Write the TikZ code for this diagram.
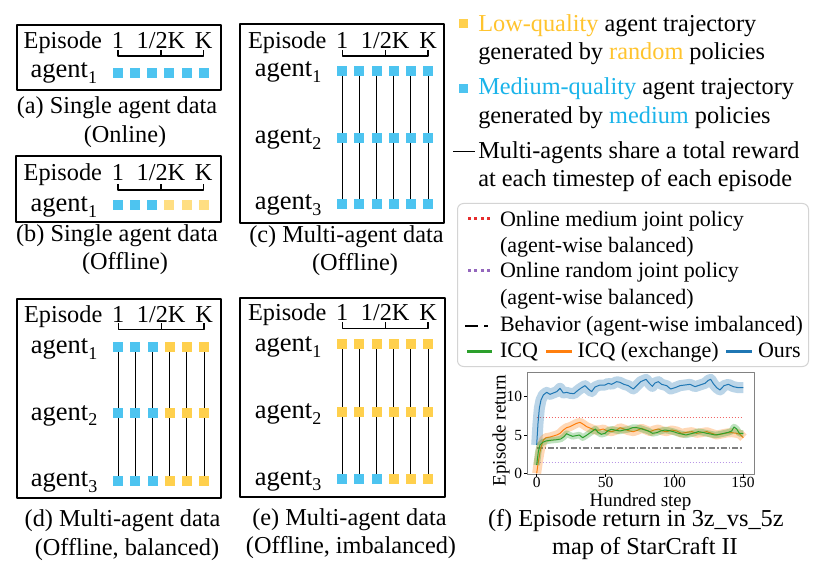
\documentclass[tikz,border=0pt]{standalone}
\usepackage{fontspec}
\setmainfont{Liberation Serif}
\definecolor{mblue}{RGB}{77,196,240}
\definecolor{myel}{RGB}{255,208,77}
\definecolor{myelp}{RGB}{255,222,130}
\definecolor{lowtxt}{RGB}{255,196,46}
\definecolor{medtxt}{RGB}{26,180,234}
\definecolor{cours}{RGB}{31,119,180}
\definecolor{cicq}{RGB}{44,160,44}
\definecolor{cexc}{RGB}{255,127,14}
\definecolor{cred}{RGB}{230,45,45}
\definecolor{cpur}{RGB}{148,103,189}
\definecolor{credl}{RGB}{240,100,100}
\definecolor{cpurl}{RGB}{185,150,230}
\definecolor{framegray}{RGB}{130,130,130}
\definecolor{leggray}{RGB}{212,212,212}
\newcommand{\fBig}{\fontsize{24.3}{29}\selectfont}
\newcommand{\fAgt}{\fontsize{26.5}{30}\selectfont}
\newcommand{\fLeg}{\fontsize{22}{26}\selectfont}
\newcommand{\fTick}{\fontsize{15.5}{17}\selectfont}
\newcommand{\fLab}{\fontsize{19}{22}\selectfont}
\newcommand{\agt}[1]{{\fAgt agent\raisebox{-0.22em}{\fontsize{18}{18}\selectfont #1}}}
\newcommand{\mkhead}[4]{%
  \node[txt, anchor=base east] (#1ep) at ({#2-16},#3) {Episode};
  \node[txt] (#1k1) at (#2,#3) {1};
  \node[txt] (#1kh) at ({#2+42.9},#3) {1/2K};
  \node[txt] (#1kk) at ({#2+85.75},#3) {K};
  \draw[brk] (#2,{#4-6}) -- (#2,#4) -- ({#2+85.75},#4) -- ({#2+85.75},{#4-6});
  \draw[brk] ({#2+42.9},#4) -- ({#2+42.9},{#4-6});
}
\newcommand{\mkrow}[7]{%
  \node[txt, anchor=base east] (#1l#2) at ({#3-21},#5) {\agt{#6}};
  \foreach \c [count=\i from 0] in {#7}
    \node[sq, fill=\c] (#1r#2c\i) at ({#3+17.15*\i},#4) {};
}
\newcommand{\mkconn}[1]{%
  \foreach \i in {0,...,5} {
    \draw[conn] (#1r1c\i) -- (#1r2c\i);
    \draw[conn] (#1r2c\i) -- (#1r3c\i);
  }
}
\begin{document}
\begin{tikzpicture}[x=1pt,y=-1pt,line join=round,
  txt/.style={font=\fBig, inner sep=0pt, outer sep=0pt, anchor=base},
  legt/.style={font=\fLeg, inner sep=0pt, outer sep=0pt, anchor=base west},
  topt/.style={font=\fBig, inner sep=0pt, outer sep=0pt, anchor=base west},
  sq/.style={minimum size=10pt, inner sep=0pt, outer sep=0pt, draw=none},
  pbox/.style={draw=black, line width=1.6pt, inner sep=0pt, anchor=north west},
  brk/.style={line width=1.2pt},
  conn/.style={line width=1pt},
  tickl/.style={font=\fTick, inner sep=0pt, outer sep=0pt},
]
\fill[white] (0,0) rectangle (822,577);
\useasboundingbox (0,0) rectangle (822,577);

% ---------- panel boxes ----------
\node[pbox, minimum width=204pt, minimum height=65pt] (boxa) at (16,24) {};
\node[pbox, minimum width=205pt, minimum height=66pt] (boxb) at (15,155) {};
\node[pbox, minimum width=204pt, minimum height=199pt] (boxc) at (239,23) {};
\node[pbox, minimum width=204pt, minimum height=199pt] (boxd) at (16,298) {};
\node[pbox, minimum width=205pt, minimum height=199pt] (boxe) at (239,297) {};

% ---------- (a) ----------
\mkhead{a}{118}{48.3}{56}
\mkrow{a}{1}{118}{73}{77.5}{1}{mblue,mblue,mblue,mblue,mblue,mblue}
\node[txt] (capa1) at (117,114) {(a) Single agent data};
\node[txt] (capa2) at (125,143) {(Online)};

% ---------- (b) ----------
\mkhead{b}{118}{180.7}{190}
\mkrow{b}{1}{118}{205}{212}{1}{mblue,mblue,mblue,myelp,myelp,myelp}
\node[txt] (capb1) at (117,241.7) {(b) Single agent data};
\node[txt] (capb2) at (125,270) {(Offline)};

% ---------- (c) ----------
\mkhead{c}{342.3}{48.3}{56}
\mkrow{c}{1}{342.3}{71}{76.7}{1}{mblue,mblue,mblue,mblue,mblue,mblue}
\mkrow{c}{2}{342.3}{138}{143.3}{2}{mblue,mblue,mblue,mblue,mblue,mblue}
\mkrow{c}{3}{342.3}{204}{209.3}{3}{mblue,mblue,mblue,mblue,mblue,mblue}
\mkconn{c}
\node[txt] (capc1) at (346.5,242.7) {(c) Multi-agent data};
\node[txt] (capc2) at (355,270.7) {(Offline)};

% ---------- (d) ----------
\mkhead{d}{118.3}{322.7}{329.3}
\mkrow{d}{1}{118.3}{347}{353.3}{1}{mblue,mblue,mblue,myel,myel,myel}
\mkrow{d}{2}{118.3}{413}{420}{2}{mblue,mblue,mblue,myel,myel,myel}
\mkrow{d}{3}{118.3}{481}{486.7}{3}{mblue,mblue,mblue,myel,myel,myel}
\mkconn{d}
\node[txt] (capd1) at (122.5,526.7) {(d) Multi-agent data};
\node[txt] (capd2) at (127,555) {(Offline, balanced)};

% ---------- (e) ----------
\mkhead{e}{342.3}{320.7}{328.3}
\mkrow{e}{1}{342.3}{344}{351.7}{1}{myel,myel,myel,myel,myel,myel}
\mkrow{e}{2}{342.3}{412}{418.3}{2}{myel,myel,myel,myel,myel,myel}
\mkrow{e}{3}{342.3}{479}{485}{3}{mblue,mblue,mblue,myel,myel,myel}
\mkconn{e}
\node[txt] (cape1) at (349.5,525) {(e) Multi-agent data};
\node[txt] (cape2) at (351,553) {(Offline, imbalanced)};

% ---------- top legend ----------
\node[sq, minimum size=9pt, fill=myel] (lm1) at (463,23.3) {};
\node[topt] (lt1) at (478.3,31.7) {\textcolor{lowtxt}{Low-quality} agent trajectory};
\node[topt] (lt2) at (478.3,60) {generated by \textcolor{lowtxt}{random} policies};
\node[sq, minimum size=9pt, fill=mblue] (lm2) at (463,88.3) {};
\node[topt] (lt3) at (478.3,95) {\textcolor{medtxt}{Medium-quality} agent trajectory};
\node[topt] (lt4) at (478.3,123.3) {generated by \textcolor{medtxt}{medium} policies};
\coordinate (ld0) at (453,151.7);
\coordinate (ld1) at (475,151.7);
\draw[line width=1pt] (ld0) -- (ld1);
\node[topt] (lt5) at (478.3,158.3) {Multi-agents share a total reward};
\node[topt] (lt6) at (478.3,186.7) {at each timestep of each episode};

% ---------- plot legend box ----------
\node[draw=leggray, line width=1pt, rounded corners=6pt, anchor=north west,
      minimum width=351pt, minimum height=163pt, fill=white, inner sep=0pt] (legbox) at (457,203) {};
\coordinate (s1a) at (468,218.5); \coordinate (s1b) at (493,218.5);
\draw[cred, line width=2.6pt, dash pattern=on 3pt off 3.4pt] (s1a) -- (s1b);
\node[legt] (le1) at (500,226.7) {Online medium joint policy};
\node[legt] (le2) at (500,252.5) {(agent-wise balanced)};
\coordinate (s2a) at (468,270.7); \coordinate (s2b) at (493,270.7);
\draw[cpur, line width=2.6pt, dash pattern=on 3pt off 3.4pt] (s2a) -- (s2b);
\node[legt] (le3) at (500,278) {Online random joint policy};
\node[legt] (le4) at (500,304.5) {(agent-wise balanced)};
\coordinate (s3a) at (465,326); \coordinate (s3b) at (490,326);
\draw[black, line width=2.7pt, dash pattern=on 12.7pt off 6.6pt on 3.4pt off 10pt] (s3a) -- (s3b);
\node[legt] (le5) at (500,331.7) {Behavior (agent-wise imbalanced)};
\coordinate (s4a) at (467,351.7); \coordinate (s4b) at (492,351.7);
\draw[cicq, line width=2.6pt] (s4a) -- (s4b);
\node[legt] (le6) at (500,357) {ICQ};
\coordinate (s5a) at (546,351.7); \coordinate (s5b) at (572,351.7);
\draw[cexc, line width=2.6pt] (s5a) -- (s5b);
\node[legt] (le7) at (577.5,357) {ICQ (exchange)};
\coordinate (s6a) at (726,351.7); \coordinate (s6b) at (752,351.7);
\draw[cours, line width=2.6pt] (s6a) -- (s6b);
\node[legt] (le8) at (758,357) {Ours};

% ---------- plot ----------
\begin{scope}[shift={(520pt,-365pt)}, x=0.33333pt, y=-0.33333pt]
  % reference levels
  \draw[credl, line width=1pt, dash pattern=on 1.2pt off 1.8pt] (50,158) -- (670,158);
  \draw[cpurl, line width=1pt, dash pattern=on 1.2pt off 1.8pt] (50,292) -- (670,292);
  \draw[gray, line width=1.8pt, dash pattern=on 6pt off 2pt on 1.5pt off 2pt] (50,250) -- (670,250);
  % Ours
  \draw[cours, line width=1pt, preaction={draw, cours, opacity=0.3, line width=11pt}]
    plot coordinates {(50,240) (54,175) (58,130) (63,105) (70,90) (80,82) (90,88) (100,84) (110,80) (120,70) (130,84) (140,82) (150,85) (162,86) (175,75) (185,68) (195,62) (205,72) (215,80) (225,66) (240,60) (255,60) (265,55) (275,58) (290,50) (300,52) (312,58) (325,62) (340,72) (350,62) (362,50) (378,43) (388,55) (397,64) (405,54) (415,50) (425,58) (440,62) (452,72) (465,68) (480,62) (495,60) (510,58) (525,65) (540,60) (555,55) (565,46) (572,43) (580,56) (590,68) (600,75) (612,62) (625,58) (640,65) (655,68) (670,68)};
  % ICQ (exchange)
  \draw[cexc, line width=1pt, preaction={draw, cexc, opacity=0.3, line width=9pt}]
    plot coordinates {(50,325) (55,290) (62,250) (70,225) (78,218) (90,216) (100,213) (110,210) (120,205) (130,195) (140,188) (150,185) (160,180) (170,175) (180,172) (190,178) (200,185) (212,190) (225,195) (238,195) (250,192) (262,198) (275,200) (290,195) (300,188) (312,192) (325,197) (340,200) (352,196) (365,190) (378,195) (390,200) (402,195) (415,192) (428,198) (440,200) (455,195) (470,198) (485,205) (500,202) (515,200) (530,205) (545,203) (560,200) (575,205) (590,210) (605,207) (620,204) (635,203) (650,205) (660,208) (670,218)};
  % ICQ
  \draw[cicq, line width=1pt, preaction={draw, cicq, opacity=0.3, line width=6.5pt}]
    plot coordinates {(50,300) (55,260) (60,240) (68,232) (78,228) (90,226) (100,225) (112,224) (122,222) (132,215) (140,206) (148,210) (158,214) (168,212) (178,210) (188,218) (198,212) (208,205) (218,198) (226,192) (234,202) (244,208) (255,205) (265,196) (275,193) (288,196) (300,198) (312,195) (325,193) (338,188) (350,188) (360,190) (372,194) (385,198) (398,205) (410,203) (422,198) (435,195) (448,197) (460,200) (472,204) (485,207) (498,210) (510,207) (522,204) (535,200) (548,202) (560,205) (572,207) (585,210) (598,208) (612,205) (625,202) (635,198) (642,186) (650,192) (658,205) (670,205)};
  % frame and ticks
  \draw[framegray, line width=0.9pt] (21,21) rectangle (702,327);
  \foreach \yy in {325,212,95} \draw[black, line width=0.7pt] (21,\yy) -- (11,\yy);
  \foreach \xx in {50,257,463,669} \draw[black, line width=0.7pt] (\xx,327) -- (\xx,337);
\end{scope}
\node[tickl, anchor=east] (ty0) at (522,473.5) {0};
\node[tickl, anchor=east] (ty5) at (522,435.7) {5};
\node[tickl, anchor=east] (ty10) at (522,396.7) {10};
\node[tickl, anchor=base] (tx0) at (536.7,487.5) {0};
\node[tickl, anchor=base] (tx50) at (605.7,487.5) {50};
\node[tickl, anchor=base] (tx100) at (674.3,487.5) {100};
\node[tickl, anchor=base] (tx150) at (743,487.5) {150};
\node[font=\fLab, inner sep=0pt, anchor=base] (xlab) at (640.5,506) {Hundred step};
\node[font=\fLab, inner sep=0pt, anchor=base, rotate=90] (ylab) at (505.7,430.5) {Episode return};
\node[txt, anchor=base west] (capf1) at (488,526.7) {(f) Episode return in 3z\_vs\_5z};
\node[txt] (capf2) at (645,554) {map of StarCraft II};
\end{tikzpicture}
\end{document}
